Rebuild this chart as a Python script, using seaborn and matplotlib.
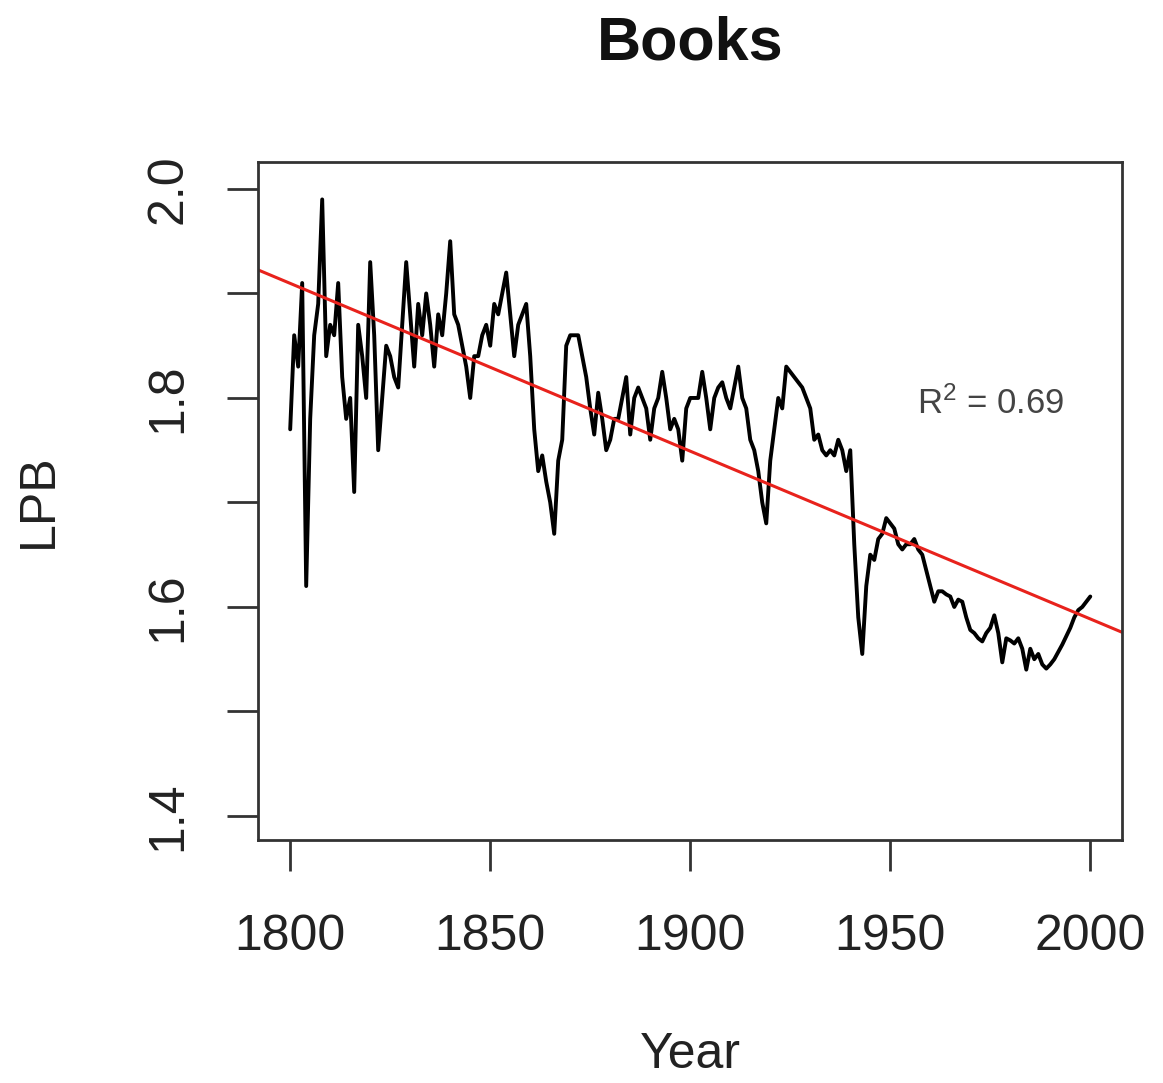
import numpy as np
import pandas as pd
import matplotlib
matplotlib.use("Agg")
import matplotlib.pyplot as plt
import seaborn as sns

# LPB per year (1800-2000)
years = list(range(1800, 2001))
lpb = [
    1.77, 1.86, 1.83, 1.91, 1.62, 1.78, 1.86, 1.89, 1.99, 1.84,   # 1800s
    1.87, 1.86, 1.91, 1.82, 1.78, 1.80, 1.71, 1.87, 1.84, 1.80,   # 1810s
    1.93, 1.86, 1.75, 1.80, 1.85, 1.84, 1.82, 1.81, 1.87, 1.93,   # 1820s
    1.88, 1.83, 1.89, 1.86, 1.90, 1.87, 1.83, 1.88, 1.86, 1.90,   # 1830s
    1.95, 1.88, 1.87, 1.85, 1.83, 1.80, 1.84, 1.84, 1.86, 1.87,   # 1840s
    1.85, 1.89, 1.88, 1.90, 1.92, 1.88, 1.84, 1.87, 1.88, 1.89,   # 1850s
    1.84, 1.77, 1.73, 1.745, 1.72, 1.70, 1.67, 1.74, 1.76, 1.85,  # 1860s
    1.86, 1.86, 1.86, 1.84, 1.82, 1.79, 1.765, 1.805, 1.78, 1.75, # 1870s
    1.76, 1.78, 1.78, 1.80, 1.82, 1.765, 1.80, 1.81, 1.80, 1.79,  # 1880s
    1.76, 1.79, 1.80, 1.825, 1.80, 1.77, 1.78, 1.77, 1.74, 1.79,  # 1890s
    1.80, 1.80, 1.80, 1.825, 1.80, 1.77, 1.80, 1.81, 1.815, 1.80, # 1900s
    1.79, 1.81, 1.83, 1.80, 1.79, 1.76, 1.75, 1.73, 1.70, 1.68,   # 1910s
    1.74, 1.77, 1.80, 1.79, 1.83, 1.825, 1.82, 1.815, 1.81, 1.80, # 1920s
    1.79, 1.76, 1.765, 1.75, 1.745, 1.75, 1.745, 1.76, 1.75, 1.73, # 1930s
    1.75, 1.66, 1.59, 1.555, 1.62, 1.65, 1.645, 1.665, 1.67, 1.685, # 1940s
    1.68, 1.675, 1.66, 1.655, 1.66, 1.66, 1.665, 1.655, 1.65, 1.635, # 1950s
    1.62, 1.605, 1.615, 1.615, 1.612, 1.61, 1.60, 1.607, 1.605, 1.59, # 1960s
    1.578, 1.575, 1.57, 1.567, 1.575, 1.58, 1.592, 1.575, 1.547, 1.57, # 1970s
    1.568, 1.565, 1.57, 1.56, 1.54, 1.56, 1.55, 1.555, 1.545, 1.541, # 1980s
    1.545, 1.55, 1.557, 1.564, 1.572, 1.58, 1.59, 1.597, 1.60, 1.605, # 1990s
    1.61,
]
y_ticks = [1.4, 1.5, 1.6, 1.7, 1.8, 1.9, 2.0]
y_ticklabels = ["1.4", "", "1.6", "", "1.8", "", "2.0"]
x_ticks = [1800, 1850, 1900, 1950, 2000]

df = pd.DataFrame({"Year": years, "LPB": lpb})

sns.set_theme(style="white")
plt.rcParams["font.family"] = ["Liberation Sans", "DejaVu Sans"]
plt.rcParams["mathtext.fontset"] = "custom"
plt.rcParams["mathtext.rm"] = "Liberation Sans"
plt.rcParams["mathtext.it"] = "Liberation Sans"

fig = plt.figure(figsize=(11.63, 10.83), dpi=100)
ax = fig.add_axes([0.222, 0.2244, 0.743, 0.6262])

ax.set_xlim(1792, 2008)
ax.set_ylim(1.377, 2.026)

sns.lineplot(data=df, x="Year", y="LPB", color="black", linewidth=2.8, ax=ax)
# linear fit drawn across the whole plotting region
sns.regplot(data=df, x="Year", y="LPB", scatter=False, ci=None, truncate=False,
            color="#e8221c", line_kws={"linewidth": 2.2}, ax=ax)

ax.set_xlim(1792, 2008)
ax.set_ylim(1.377, 2.026)

ax.text(1975, 1.795, r"R$^2$ = 0.69", fontsize=25, color="#444444",
        ha="center", va="center")

ax.set_xticks(x_ticks)
ax.set_xticklabels([str(v) for v in x_ticks], fontsize=36, color="#222222")
ax.set_yticks(y_ticks)
ax.set_yticklabels(y_ticklabels, fontsize=36, color="#222222",
                   rotation=90, va="center")
ax.tick_params(axis="both", direction="out", length=22, width=2,
               color="#333333", pad=26, left=True, bottom=True)
ax.tick_params(axis="x", pad=31)

for sp in ax.spines.values():
    sp.set_visible(True)
    sp.set_color("#333333")
    sp.set_linewidth(2)

ax.set_xlabel("Year", fontsize=36, labelpad=52, color="#222222")
ax.set_ylabel("LPB", fontsize=36, labelpad=60, color="#222222")
ax.set_title("Books", fontsize=44, fontweight="bold", pad=74, color="#111111")

fig.savefig("out.png", dpi=100, facecolor="white")
